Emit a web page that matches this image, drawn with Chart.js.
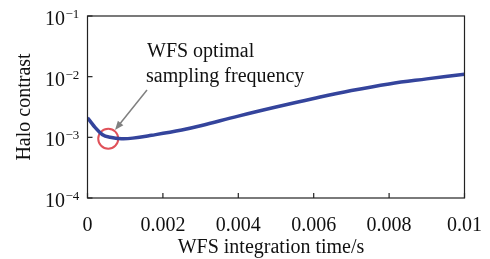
<!DOCTYPE html>
<html>
<head>
<meta charset="utf-8">
<script src="https://cdn.jsdelivr.net/npm/chart.js@4/dist/chart.umd.min.js"></script>
<style>
  html, body { margin: 0; padding: 0; background: #fff; }
  #wrap { width: 490px; height: 259px; }
</style>
</head>
<body>
<div id="wrap"><canvas id="myChart" width="490" height="259"></canvas></div>
<script>
// integration time (s) and halo contrast
const times = [0, 0.0001, 0.0002, 0.0004, 0.0006, 0.0009, 0.0012, 0.0017, 0.0025, 0.003, 0.004, 0.005, 0.006, 0.007, 0.008, 0.009, 0.01];
const contrast = [2.1e-3, 1.75e-3, 1.46e-3, 1.1e-3, 1.0e-3, 9.5e-4, 9.7e-4, 1.08e-3, 1.32e-3, 1.55e-3, 2.24e-3, 3.16e-3, 4.37e-3, 5.9e-3, 7.6e-3, 9.2e-3, 1.1e-2];

// optimal point marked by the red circle
const optimalTime = [0.00055];
const optimalContrast = [9.5e-4];

const xTickLabels = ['0', '0.002', '0.004', '0.006', '0.008', '0.01'];
const yTickValues = [1e-4, 1e-3, 1e-2, 1e-1];
const yTickExponents = ['\u22124', '\u22123', '\u22122', '\u22121'];

const serif = "'Liberation Serif', 'Times New Roman', serif";

// box, inward ticks, y labels with superscripts, x title, arrow and note
const extras = {
    id: 'extras',
    afterDraw(chart) {
        const ctx = chart.ctx;
        const a = chart.chartArea;
        const xs = chart.scales.x;
        const ys = chart.scales.y;
        ctx.save();
        ctx.strokeStyle = '#222';
        ctx.lineWidth = 1.2;
        ctx.strokeRect(a.left, a.top, a.right - a.left, a.bottom - a.top);

        // x ticks pointing up
        xs.ticks.forEach(t => {
            const px = xs.getPixelForValue(t.value);
            ctx.beginPath();
            ctx.moveTo(px, a.bottom);
            ctx.lineTo(px, a.bottom - 5);
            ctx.stroke();
        });
        // y ticks pointing right + labels
        ctx.fillStyle = '#111';
        yTickValues.forEach((v, i) => {
            const py = ys.getPixelForValue(v);
            ctx.beginPath();
            ctx.moveTo(a.left, py);
            ctx.lineTo(a.left + 5, py);
            ctx.stroke();
            ctx.textBaseline = 'alphabetic';
            ctx.textAlign = 'right';
            ctx.font = '20px ' + serif;
            ctx.fillText('10', 65, py + 9);
            ctx.textAlign = 'left';
            ctx.font = '13px ' + serif;
            ctx.fillText(yTickExponents[i], 65.5, py + 2);
        });

        // x axis title
        ctx.font = '20px ' + serif;
        ctx.textAlign = 'center';
        ctx.fillText('WFS integration time/s', 271, 253);

        // arrow
        const x0 = 147, y0 = 90, x1 = 115, y1 = 130;
        const ang = Math.atan2(y1 - y0, x1 - x0);
        ctx.strokeStyle = '#808080';
        ctx.fillStyle = '#808080';
        ctx.lineWidth = 1.5;
        ctx.beginPath();
        ctx.moveTo(x0, y0);
        ctx.lineTo(x1 - 6 * Math.cos(ang), y1 - 6 * Math.sin(ang));
        ctx.stroke();
        ctx.beginPath();
        ctx.moveTo(x1, y1);
        ctx.lineTo(x1 - 9 * Math.cos(ang) + 3.5 * Math.sin(ang), y1 - 9 * Math.sin(ang) - 3.5 * Math.cos(ang));
        ctx.lineTo(x1 - 9 * Math.cos(ang) - 3.5 * Math.sin(ang), y1 - 9 * Math.sin(ang) + 3.5 * Math.cos(ang));
        ctx.closePath();
        ctx.fill();

        ctx.fillStyle = '#111';
        ctx.font = '20px ' + serif;
        ctx.textAlign = 'left';
        ctx.textBaseline = 'alphabetic';
        ctx.fillText('WFS optimal', 147, 57);
        ctx.fillText('sampling frequency', 146, 82);
        ctx.restore();
    }
};

const ctx = document.getElementById('myChart').getContext('2d');
const myChart = new Chart(ctx, {
    type: 'line',
    data: {
        datasets: [{
            label: 'Halo contrast',
            data: times.map((t, i) => ({ x: t, y: contrast[i] })),
            borderColor: '#34449c',
            borderWidth: 3.5,
            pointRadius: 0,
            fill: false,
            tension: 0.4
        },
        {
            label: 'Optimal',
            type: 'scatter',
            data: optimalTime.map((t, i) => ({ x: t, y: optimalContrast[i] })),
            pointRadius: 10,
            pointBorderWidth: 2,
            pointBorderColor: '#e0525a',
            pointBackgroundColor: 'rgba(0,0,0,0)'
        }]
    },
    options: {
        responsive: false,
        animation: false,
        layout: { padding: { top: 16, right: 25, left: 0, bottom: 0 } },
        plugins: { legend: { display: false }, tooltip: { enabled: false } },
        scales: {
            x: {
                type: 'linear',
                min: 0,
                max: 0.01,
                grid: { display: false },
                border: { display: false },
                ticks: {
                    stepSize: 0.002,
                    padding: 8,
                    color: '#111',
                    font: { family: serif, size: 20 },
                    maxRotation: 0,
                    callback: (v, i) => xTickLabels[i]
                },
                afterFit: s => { s.height = 61; }
            },
            y: {
                type: 'logarithmic',
                min: 1e-4,
                max: 1e-1,
                grid: { display: false },
                border: { display: false },
                ticks: { display: false },
                afterBuildTicks: s => { s.ticks = yTickValues.map(v => ({ value: v })); },
                title: {
                    display: true,
                    text: 'Halo contrast',
                    color: '#111',
                    font: { family: serif, size: 20 },
                    padding: { top: 13, bottom: 0 }
                },
                afterFit: s => { s.width = 87.5; }
            }
        }
    },
    plugins: [extras]
});
</script>
</body>
</html>
